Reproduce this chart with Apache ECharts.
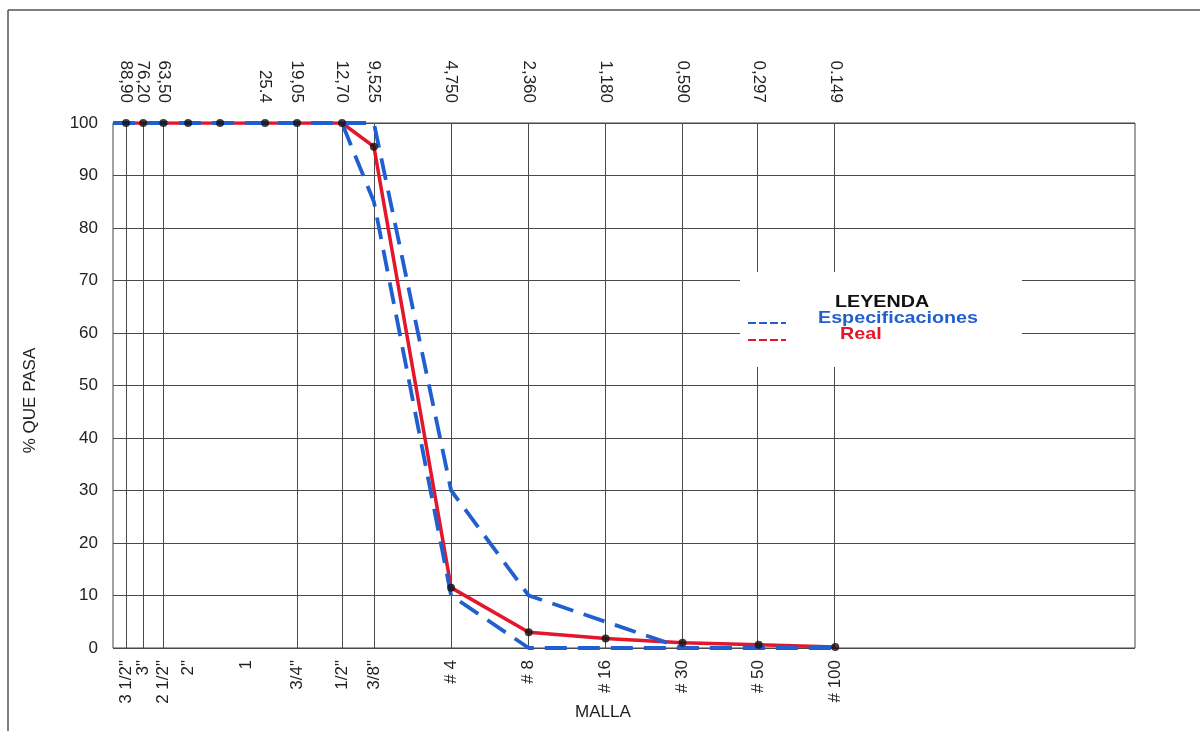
<!DOCTYPE html>
<html>
<head>
<meta charset="utf-8">
<script src="https://cdn.jsdelivr.net/npm/echarts@6/dist/echarts.min.js"></script>
<style>
html,body{margin:0;padding:0;background:#fff;}
#chart{width:1200px;height:731px;}
</style>
</head>
<body>
<div id="chart"></div>
<script>
// Sieve openings (mm) of the tested points
var sieveMm = [88.9, 76.2, 63.5, 50.8, 38.1, 25.4, 19.05, 12.7, 9.525, 4.75, 2.36, 1.18, 0.59, 0.297, 0.149];
// Real grading (% passing)
var realPass = [100, 100, 100, 100, 100, 100, 100, 100, 95.5, 11.5, 3, 1.8, 1.0, 0.6, 0.2];
// Specification limits
var specMm    = [100, 88.9, 76.2, 63.5, 50.8, 38.1, 25.4, 19.05, 12.7, 9.525, 4.75, 2.36, 1.18, 0.59, 0.297, 0.149];
var specUpper = [100, 100, 100, 100, 100, 100, 100, 100, 100, 100, 30, 10, 5, 0, 0, 0];
var specLower = [100, 100, 100, 100, 100, 100, 100, 100, 100, 85, 10, 0, 0, 0, 0, 0];
// Vertical grid lines (mm)
var gridMm = [88.9, 76.2, 63.5, 19.05, 12.7, 9.525, 4.75, 2.36, 1.18, 0.59, 0.297, 0.149];
// Top tick labels (mm)
var topVals   = [88.9, 76.2, 63.5, 25.4, 19.05, 12.7, 9.525, 4.75, 2.36, 1.18, 0.59, 0.297, 0.149];
var topLabels = ['88,90', '76,20', '63,50', '25.4', '19,05', '12,70', '9,525', '4,750', '2,360', '1,180', '0,590', '0,297', '0.149'];
// Bottom tick labels (sieve names)
var botVals   = [88.9, 76.2, 63.5, 50.8, 30, 19.05, 12.7, 9.525, 4.75, 2.36, 1.18, 0.59, 0.297, 0.149];
var botLabels = ['3 1/2"', '3"', '2 1/2"', '2"', '1', '3/4"', '1/2"', '3/8"', '# 4', '# 8', '# 16', '# 30', '# 50', '# 100'];

function zip(a, b) { return a.map(function (v, i) { return [v, b[i]]; }); }
function lookup(vals, labels) {
  return function (value, index) {
    if (index != null && labels[index] != null) return labels[index];
    var best = 0, bd = Infinity;
    for (var i = 0; i < vals.length; i++) {
      var d = Math.abs(Math.log(vals[i]) - Math.log(value));
      if (d < bd) { bd = d; best = i; }
    }
    return labels[best];
  };
}

var FONT = 'Liberation Sans, Arial, sans-serif';
var BLUE = '#1f5fcf', RED = '#e3162b';
var chart = echarts.init(document.getElementById('chart'));
var xCommon = {
  type: 'log', logBase: 10, min: 0.01, max: 100, inverse: true,
  axisLine: { show: false }, axisTick: { show: false }, splitLine: { show: false }
};
function legendText(txt, x, y, color) {
  return { type: 'text', x: x, y: y, scaleX: 1.16, z: 11,
    style: { text: txt, x: 0, y: 0, verticalAlign: 'top', font: 'bold 17px ' + FONT, fill: color } };
}
chart.setOption({
  animation: false,
  backgroundColor: '#fff',
  grid: { left: 113, right: 65, top: 123, bottom: 83, show: true, borderColor: '#444', borderWidth: 1 },
  xAxis: [
    Object.assign({}, xCommon, {
      position: 'bottom',
      axisLabel: { customValues: botVals, formatter: lookup(botVals, botLabels), rotate: 90, margin: 12,
        fontSize: 17, color: '#222', fontFamily: FONT }
    }),
    Object.assign({}, xCommon, {
      position: 'top',
      axisLabel: { customValues: topVals, formatter: lookup(topVals, topLabels), rotate: 90, margin: 20,
        fontSize: 17, color: '#222', fontFamily: FONT }
    })
  ],
  yAxis: {
    type: 'value', min: 0, max: 100, interval: 10,
    name: '% QUE PASA', nameLocation: 'middle', nameGap: 74,
    nameTextStyle: { fontSize: 17, color: '#222', fontFamily: FONT, padding: [0, 30, 0, 0] },
    axisLine: { show: false }, axisTick: { show: false },
    axisLabel: { fontSize: 17, color: '#222', margin: 15, fontFamily: FONT },
    splitLine: { lineStyle: { color: '#4a4a4a', width: 1 } }
  },
  series: [
    {
      type: 'line', data: [], z: 1, silent: true,
      markLine: {
        z: 1, silent: true, symbol: 'none', animation: false,
        label: { show: false },
        lineStyle: { color: '#4a4a4a', width: 1, type: 'solid' },
        data: gridMm.map(function (v) { return { xAxis: v }; })
      }
    },
    {
      name: 'Real', type: 'line', data: zip(sieveMm, realPass), symbol: 'none', z: 3,
      lineStyle: { color: RED, width: 3.5 }
    },
    {
      name: 'Especificaciones', type: 'line', data: zip(specMm, specUpper), symbol: 'none', z: 4,
      lineStyle: { color: BLUE, width: 3.8, type: [22, 11] }
    },
    {
      name: 'Especificaciones', type: 'line', data: zip(specMm, specLower), symbol: 'none', z: 4,
      lineStyle: { color: BLUE, width: 3.8, type: [22, 11] }
    },
    {
      type: 'scatter', data: zip(sieveMm, realPass), symbolSize: 8, z: 6,
      itemStyle: { color: '#111' }
    }
  ],
  graphic: [
    { type: 'line', shape: { x1: 8, y1: 10, x2: 1200, y2: 10 }, style: { stroke: '#555', lineWidth: 1.5 } },
    { type: 'line', shape: { x1: 8, y1: 10, x2: 8, y2: 731 }, style: { stroke: '#555', lineWidth: 1.5 } },
    { type: 'rect', shape: { x: 740, y: 272, width: 282, height: 95 }, style: { fill: '#fff' }, z: 10 },
    legendText('LEYENDA', 835, 294, '#111'),
    { type: 'line', z: 11, shape: { x1: 748, y1: 323, x2: 786, y2: 323 }, style: { stroke: BLUE, lineWidth: 2, lineDash: [8, 3] } },
    legendText('Especificaciones', 818, 310, BLUE),
    { type: 'line', z: 11, shape: { x1: 748, y1: 340, x2: 786, y2: 340 }, style: { stroke: RED, lineWidth: 2, lineDash: [8, 3] } },
    legendText('Real', 840, 326, RED),
    { type: 'text', left: 575, top: 704, z: 11, style: { text: 'MALLA', font: '17px ' + FONT, fill: '#222' } }
  ]
});
</script>
</body>
</html>
